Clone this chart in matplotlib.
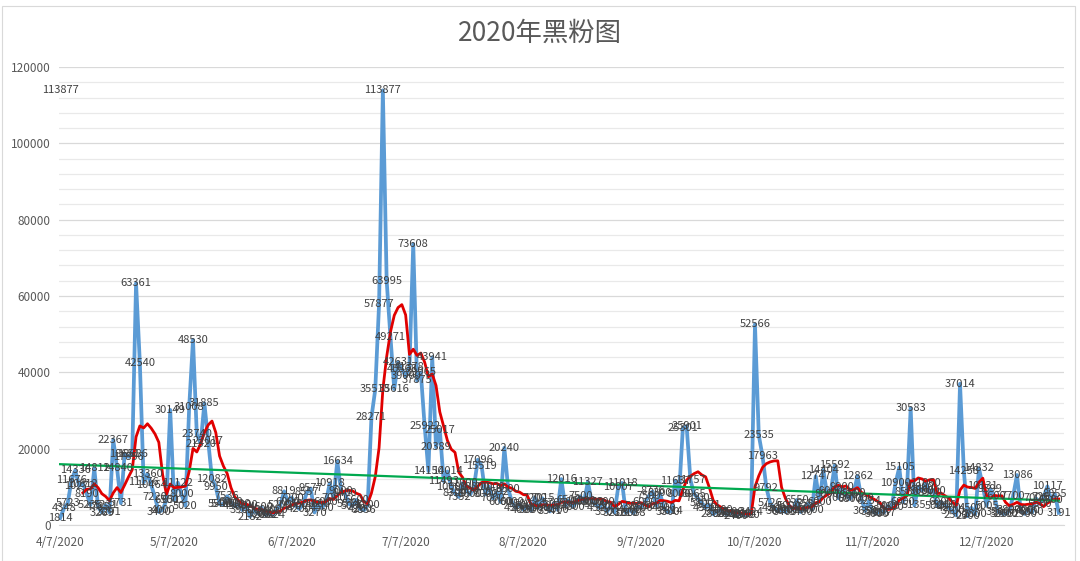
import numpy as np
import pandas as pd
import matplotlib
matplotlib.use('Agg')
import matplotlib.pyplot as plt
from matplotlib.ticker import MultipleLocator

plt.rcParams['font.family'] = ['Noto Sans CJK SC', 'DejaVu Sans']

# daily values, 2020-04-07 .. 2020-12-26
april = [1814, 4348, 5723, 11676, 14336, 10272, 10812, 8190, 5236, 14812,
         4735, 3269, 5231, 3291, 22367, 14840, 5731, 18651, 17856, 18686,
         63361, 42540, 11176, 13360]
may = [10464, 7220, 3400, 4000, 6500, 30149, 6512, 11122, 8000, 5020,
       31008, 48530, 23740, 21320, 31885, 22017, 12082, 9950, 5500, 5400,
       7536, 6000, 4900, 5500, 3900, 5200, 2182, 4000, 3000, 4600, 2682]
june = [3024, 2624, 4000, 5200, 8819, 6000, 7200, 5000, 4200, 5500,
        8557, 9577, 3270, 5600, 4500, 6000, 10918, 7000, 16634, 9000,
        8400, 5574, 5000, 6600, 4200, 3856, 5200, 28271, 35513, 57877]
july = [113877, 63995, 49271, 35616, 42631, 40868, 39000, 41378, 73608, 37875,
        39965, 25922, 14150, 43941, 20389, 25017, 11493, 14014, 10000, 8300,
        7352, 11000, 9000, 8000, 10000, 17096, 15519, 8000, 10000, 7000, 8592]
august = [6000, 20240, 9500, 6000, 4500, 5500, 4000, 5000, 3800, 7200,
          4500, 7015, 5000, 3541, 5700, 4000, 12016, 5000, 6500, 4800,
          6000, 7500, 6200, 11327, 6000, 5500, 4500, 6000, 3500, 5000, 3210]
september = [10007, 11018, 3210, 4000, 3088, 5000, 4500, 6000, 7500, 8776,
             5000, 8300, 4500, 3300, 3614, 11637, 8000, 25301, 25901, 11757,
             8065, 7000, 5800, 4500, 5271, 2808, 3500, 4000, 3000, 2800]
october = [3500, 2400, 3000, 2500, 2700, 3424, 52566, 23535, 17963, 9792,
           5726, 4500, 3600, 4000, 3400, 5000, 4000, 6550, 3400, 4500,
           5553, 4000, 12747, 6000, 14404, 8000, 9000, 15592, 7000, 9900, 7800]
november = [6800, 8500, 12862, 7000, 3650, 6254, 3500, 3000, 3800, 3267,
            5000, 4800, 10900, 15105, 6000, 8560, 30583, 5135, 10000, 9000,
            11060, 8500, 9000, 5000, 6000, 5200, 4500, 3700, 2500, 37014]
december = [14258, 2300, 4500, 2800, 14832, 10131, 5005, 9399, 7600, 3500,
            3000, 2900, 3800, 7700, 13086, 3700, 2900, 4000, 3300, 7000,
            5500, 7267, 10117, 6500, 8055, 3191]

values = april + may + june + july + august + september + october + november + december
dates = pd.date_range('2020-04-07', periods=len(values), freq='D')
s = pd.Series(values, index=dates)

# 7-day moving average and linear trend
ma = s.rolling(7).mean()
xn = np.arange(len(values))
k, b = np.polyfit(xn, values, 1)
trend = k * xn + b

fig = plt.figure(figsize=(10.8, 5.61), dpi=100)
ax = fig.add_axes([0.0546, 0.0642, 0.931, 0.8164])

ax.plot(dates, values, color='#5B9BD5', lw=2.7, zorder=2, solid_joinstyle='round')
ax.plot(dates, ma, color='#E00000', lw=2.0, zorder=3)
ax.plot(dates, trend, color='#00A94F', lw=1.6, zorder=4)

for d, v in zip(dates, values):
    ax.text(d, v, str(v), ha='center', va='center', fontsize=8,
            color='#404040', zorder=5)
# stray label at the left edge
ax.text(dates[0], max(values), str(max(values)), ha='center', va='center',
        fontsize=8, color='#404040')

ax.set_ylim(0, 120000)
ax.set_xlim(dates[0] - pd.Timedelta(days=0.3), dates[-1] + pd.Timedelta(days=1.5))
ax.yaxis.set_major_locator(MultipleLocator(20000))
ax.yaxis.set_minor_locator(MultipleLocator(4000))
ax.grid(True, which='major', axis='y', color='#d9d9d9', lw=0.9)
ax.grid(True, which='minor', axis='y', color='#e9e9e9', lw=0.9)
ax.set_axisbelow(True)

ticks = pd.date_range('2020-04-01', '2020-12-01', freq='MS') + pd.Timedelta(days=6)
ax.set_xticks(ticks)
ax.set_xticklabels([f'{t.month}/{t.day}/{t.year}' for t in ticks])
ax.tick_params(axis='both', which='both', length=0, labelsize=8.5, colors='#595959')
ax.tick_params(axis='x', pad=8)
ax.tick_params(axis='y', pad=6)

for sp in ['top', 'right', 'left']:
    ax.spines[sp].set_visible(False)
ax.spines['bottom'].set_color('#d9d9d9')

fig.text(0.5, 0.94, '2020年黑粉图', ha='center', va='center', fontsize=19,
         color='#595959', fontweight='light')

fig.add_artist(plt.Rectangle((0.002, 0.0), 0.993, 0.99, transform=fig.transFigure,
                             fill=False, edgecolor='#d9d9d9', lw=0.8))

fig.savefig('out.png', dpi=100)
